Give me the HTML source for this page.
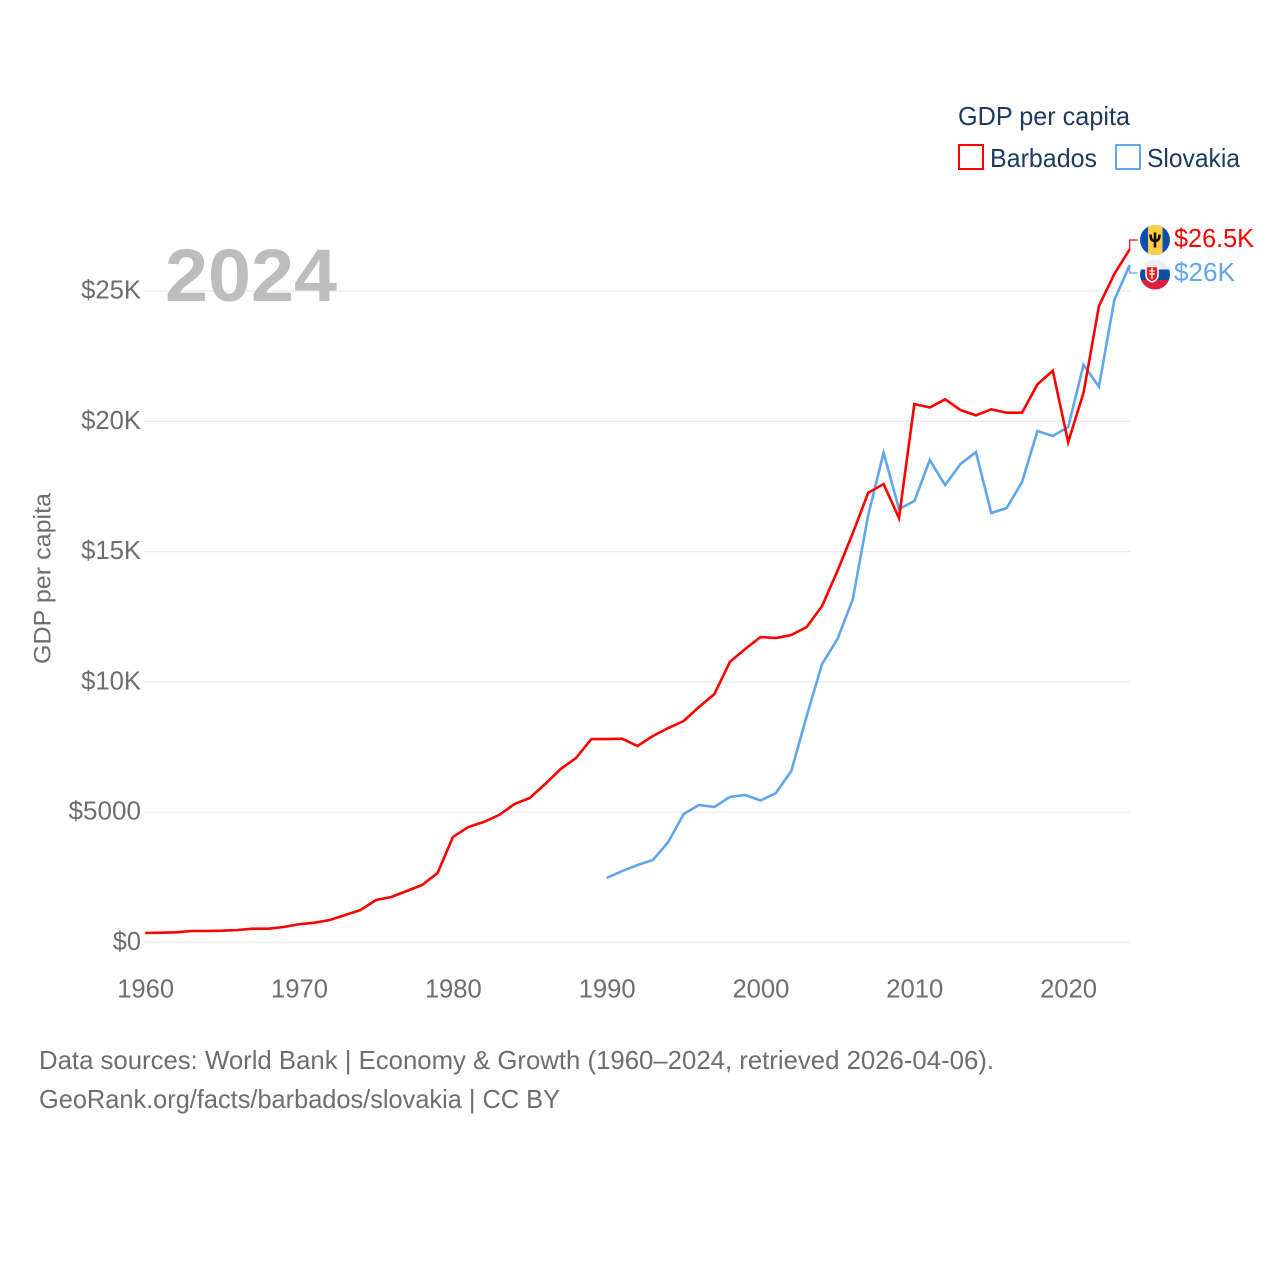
<!DOCTYPE html>
<html lang="en">
<head>
<meta charset="utf-8">
<title>GDP per capita: Barbados and Slovakia</title>
<style>
html,body{margin:0;padding:0;background:#fff;}
svg{display:block;font-family:"Liberation Sans",sans-serif;}
</style>
</head>
<body>
<svg id="chart" xmlns="http://www.w3.org/2000/svg" width="1280" height="1280" viewBox="0 0 1280 1280">
  <rect x="0" y="0" width="1280" height="1280" fill="#fff"/>
  <g id="grid"></g>
  <g id="yaxis"></g>
  <g id="xaxis"></g>
  <text x="165" y="301" font-size="74" font-weight="700" fill="#bdbdbd" textLength="172" lengthAdjust="spacingAndGlyphs">2024</text>
  <text transform="translate(50.500,578.5) rotate(-90)" text-anchor="middle" font-size="24" fill="#6e6e6e" textLength="171" lengthAdjust="spacingAndGlyphs">GDP per capita</text>
  <g id="series"></g>

  <g>
    <text x="958" y="125" font-size="26" fill="#1d3a5f" textLength="172" lengthAdjust="spacingAndGlyphs">GDP per capita</text>
    <rect x="959" y="145" width="24" height="24" fill="#fff" stroke="#ff0000" stroke-width="2"/>
    <text x="990" y="167" font-size="26" fill="#1d3a5f" textLength="107" lengthAdjust="spacingAndGlyphs">Barbados</text>
    <rect x="1116" y="145" width="24" height="24" fill="#fff" stroke="#60a5ee" stroke-width="2"/>
    <text x="1147" y="167" font-size="26" fill="#1d3a5f" textLength="93" lengthAdjust="spacingAndGlyphs">Slovakia</text>
  </g>

  <defs>
    <clipPath id="flag-clip-bb"><circle cx="1155" cy="240" r="15"/></clipPath>
    <clipPath id="flag-clip-sk"><circle cx="1155" cy="274.5" r="15"/></clipPath>
  </defs>

  <g clip-path="url(#flag-clip-sk)">
    <rect x="1140" y="259" width="30" height="11" fill="#eeeeee"/>
    <rect x="1140" y="269.5" width="30" height="10.500" fill="#0b4ea2"/>
    <rect x="1140" y="280" width="30" height="11" fill="#dc1f3c"/>
    <path d="M1146 266.500h12v8.500q0 5-6 7q-6-2-6-7z" fill="#ee1c25" stroke="#fff" stroke-width="1.500"/>
    <path d="M1152 268v11M1149.500 271h5M1149 274h6" stroke="#fff" stroke-width="1.300" fill="none"/>
  </g>
  <g clip-path="url(#flag-clip-bb)">
    <rect x="1140" y="225" width="30" height="30" fill="#0b4fb3"/>
    <rect x="1148" y="225" width="14.500" height="30" fill="#ffce45"/>
    <path d="M1155 232.500v15M1150.500 234.500q0 6.500 4.500 6.500q4.500 0 4.500-6.500" stroke="#111" stroke-width="2.600" fill="none"/>
  </g>

  <g id="endlabels"></g>

  <g>
    <text x="39" y="1069" font-size="26" fill="#6e6e6e" textLength="955" lengthAdjust="spacingAndGlyphs">Data sources: World Bank | Economy &amp; Growth (1960–2024, retrieved 2026-04-06).</text>
    <text x="39" y="1108" font-size="26" fill="#6e6e6e" textLength="521" lengthAdjust="spacingAndGlyphs">GeoRank.org/facts/barbados/slovakia | CC BY</text>
  </g>
</svg>

<script>
var xTickYears = [1960, 1970, 1980, 1990, 2000, 2010, 2020];
var yTickValues = [0, 5000, 10000, 15000, 20000, 25000];
var yTickLabels = ["$0", "$5000", "$10K", "$15K", "$20K", "$25K"];

var barbadosStartYear = 1960;
var barbadosValues = [
  365, 376, 391, 441, 441, 453, 480, 530, 530, 595,
  700, 760, 863, 1055, 1247, 1631, 1746, 1976, 2206, 2667,
  4048, 4432, 4624, 4892, 5314, 5545, 6082, 6657, 7079, 7808,
  7808, 7820, 7540, 7924, 8230, 8499, 9036, 9535, 10763, 11262,
  11722, 11684, 11799, 12106, 12912, 14255, 15713, 17259, 17593, 16288,
  20663, 20530, 20843, 20432, 20229, 20459, 20329, 20329, 21418, 21940,
  19200, 21096, 24423, 25651, 26600
];
var barbadosLabel = "$26.5K";

var slovakiaStartYear = 1990;
var slovakiaValues = [
  2475, 2743, 2974, 3165, 3856, 4931, 5276, 5199, 5583, 5660,
  5449, 5736, 6580, 8691, 10686, 11645, 13180, 16403, 18794, 16634,
  16941, 18514, 17554, 18360, 18820, 16480, 16672, 17669, 19627, 19435,
  19780, 22170, 21326, 24653, 25995
];
var slovakiaLabel = "$26K";

var SVGNS = "http://www.w3.org/2000/svg";
var X0 = 145.3, X1 = 1129.7, Y0 = 942.5, YPER = 130.3 / 5000;
function xScale(year) { return X0 + (year - 1960) * (X1 - X0) / 64; }
function yScale(value) { return Y0 - value * YPER; }
function make(tag, parent) {
  var el = document.createElementNS(SVGNS, tag);
  parent.appendChild(el);
  return el;
}

var gridGroup = document.getElementById("grid");
var yGroup = document.getElementById("yaxis");
var xGroup = document.getElementById("xaxis");
var seriesGroup = document.getElementById("series");
var endGroup = document.getElementById("endlabels");

yTickValues.forEach(function (v, i) {
  var line = make("line", gridGroup);
  
  
  line.setAttribute("x1", 144);
  line.setAttribute("x2", 1130);
  line.setAttribute("y1", yScale(v));
  line.setAttribute("y2", yScale(v));
  line.setAttribute("stroke", "#ebebeb");
  line.setAttribute("stroke-width", v === 0 ? 1.6 : 1.3);

  var label = make("text", yGroup);
  
  
  label.setAttribute("x", 141);
  label.setAttribute("y", yScale(v) + 7.5);
  label.setAttribute("text-anchor", "end");
  label.setAttribute("font-size", "26");
  label.setAttribute("fill", "#6e6e6e");
  label.setAttribute("textLength", 12.1 * yTickLabels[i].length + (yTickLabels[i].indexOf("K") > 0 ? 11.5 : 0) + (i === 0 ? 4 : 0) + (i === 1 ? 12 : 0));
  label.setAttribute("lengthAdjust", "spacingAndGlyphs");
  label.textContent = yTickLabels[i];
});

xTickYears.forEach(function (year) {
  var label = make("text", xGroup);
  
  
  label.setAttribute("x", xScale(year) + 0.4);
  label.setAttribute("y", 997.5);
  label.setAttribute("text-anchor", "middle");
  label.setAttribute("font-size", "26");
  label.setAttribute("fill", "#6e6e6e");
  label.setAttribute("textLength", "57");
  label.setAttribute("lengthAdjust", "spacingAndGlyphs");
  label.textContent = String(year);
});

function linePoints(startYear, values) {
  return values.map(function (v, i) {
    return xScale(startYear + i).toFixed(2) + "," + yScale(v).toFixed(2);
  }).join(" ");
}

var slovakiaLine = make("polyline", seriesGroup);


slovakiaLine.setAttribute("points", linePoints(slovakiaStartYear, slovakiaValues));
slovakiaLine.setAttribute("fill", "none");
slovakiaLine.setAttribute("stroke", "#60a5ee");
slovakiaLine.setAttribute("stroke-width", "2.6");
slovakiaLine.setAttribute("stroke-linejoin", "miter");

var barbadosLine = make("polyline", seriesGroup);


barbadosLine.setAttribute("points", linePoints(barbadosStartYear, barbadosValues));
barbadosLine.setAttribute("fill", "none");
barbadosLine.setAttribute("stroke", "#ff0000");
barbadosLine.setAttribute("stroke-width", "2.6");
barbadosLine.setAttribute("stroke-linejoin", "miter");

var barbadosEndY = yScale(barbadosValues[barbadosValues.length - 1]);
var barbadosConnector = make("polyline", endGroup);


barbadosConnector.setAttribute("points", X1 + "," + barbadosEndY + " " + X1 + ",240 1137.500,240");
barbadosConnector.setAttribute("fill", "none");
barbadosConnector.setAttribute("stroke", "#ff0000");
barbadosConnector.setAttribute("stroke-width", "1.200");

var slovakiaEndY = yScale(slovakiaValues[slovakiaValues.length - 1]);
var slovakiaConnector = make("polyline", endGroup);


slovakiaConnector.setAttribute("points", X1 + "," + slovakiaEndY + " " + X1 + ",273 1137.500,273");
slovakiaConnector.setAttribute("fill", "none");
slovakiaConnector.setAttribute("stroke", "#60a5ee");
slovakiaConnector.setAttribute("stroke-width", "1.200");

var barbadosEndLabel = make("text", endGroup);


barbadosEndLabel.setAttribute("x", 1174);
barbadosEndLabel.setAttribute("y", 247);
barbadosEndLabel.setAttribute("font-size", "26");
barbadosEndLabel.setAttribute("fill", "#ff0000");
barbadosEndLabel.setAttribute("textLength", "80");
barbadosEndLabel.setAttribute("lengthAdjust", "spacingAndGlyphs");
barbadosEndLabel.textContent = barbadosLabel;

var slovakiaEndLabel = make("text", endGroup);


slovakiaEndLabel.setAttribute("x", 1174);
slovakiaEndLabel.setAttribute("y", 281);
slovakiaEndLabel.setAttribute("font-size", "26");
slovakiaEndLabel.setAttribute("fill", "#60a5ee");
slovakiaEndLabel.setAttribute("textLength", "61");
slovakiaEndLabel.setAttribute("lengthAdjust", "spacingAndGlyphs");
slovakiaEndLabel.textContent = slovakiaLabel;
</script>
</body>
</html>
